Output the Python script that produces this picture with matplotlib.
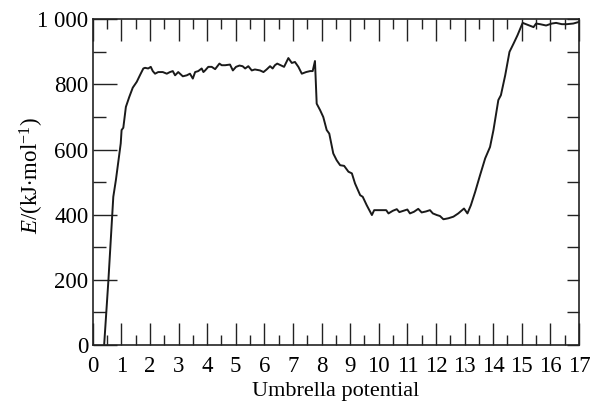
import numpy as np
import matplotlib
matplotlib.use("Agg")
import matplotlib.pyplot as plt
from matplotlib.ticker import MultipleLocator, FixedLocator

# umbrella potential window index vs energy
window = [0.40, 0.55, 0.72, 0.81, 0.98, 1.01, 1.07, 1.16, 1.28, 1.40, 1.54, 1.65, 1.77, 1.83, 1.94,
          2.03, 2.10, 2.18, 2.29, 2.45, 2.59, 2.70, 2.80, 2.88, 2.99, 3.15, 3.29, 3.40, 3.50, 3.58,
          3.69, 3.81, 3.87, 3.93, 4.04, 4.16, 4.28, 4.43, 4.51, 4.63, 4.80, 4.90, 5.01, 5.13, 5.24,
          5.33, 5.44, 5.56, 5.67, 5.85, 5.97, 6.08, 6.20, 6.29, 6.37, 6.45, 6.57, 6.69, 6.84, 6.96,
          7.07, 7.19, 7.31, 7.46, 7.60, 7.69, 7.77, 7.83, 7.95, 8.06, 8.18, 8.27, 8.41, 8.53, 8.65,
          8.79, 8.94, 9.06, 9.17, 9.35, 9.44, 9.58, 9.70, 9.76, 9.84, 9.99, 10.26, 10.34, 10.49,
          10.63, 10.72, 10.86, 11.00, 11.09, 11.23, 11.38, 11.50, 11.65, 11.79, 11.89, 12.03, 12.14,
          12.26, 12.43, 12.61, 12.78, 12.98, 13.10, 13.22, 13.37, 13.54, 13.72, 13.89, 14.01, 14.18,
          14.27, 14.42, 14.57, 14.71, 14.85, 15.00, 15.03, 15.23, 15.41, 15.50, 15.64, 15.85, 16.05,
          16.20, 16.40, 16.57, 16.80, 17.00]
energy = [0, 200, 455, 506, 619, 660, 667, 731, 762, 790, 808, 828, 849, 851, 849,
          854, 841, 833, 838, 838, 833, 838, 841, 828, 838, 825, 828, 833, 818, 838,
          841, 849, 838, 843, 854, 854, 847, 864, 859, 859, 861, 843, 854, 858, 856,
          849, 856, 843, 846, 843, 838, 846, 856, 849, 859, 864, 859, 854, 881, 866,
          869, 854, 833, 838, 841, 841, 872, 741, 721, 700, 660, 649, 588, 567, 552,
          550, 532, 527, 496, 460, 455, 429, 409, 399, 414, 414, 414, 404, 412,
          417, 408, 412, 416, 404, 409, 418, 407, 410, 414, 404, 399, 396,
          386, 389, 394, 404, 419, 404, 429, 470, 521, 573, 608, 660, 752,
          767, 828, 900, 925, 951, 982, 989, 982, 976, 987, 985, 981, 987,
          989, 985, 985, 987, 992]

x_ticks = list(range(0, 18))
y_ticks = [0, 200, 400, 600, 800, 1000]
y_tick_labels = ["0", "200", "400", "600", "800", "1 000"]

plt.rcParams["font.family"] = ["Liberation Serif", "DejaVu Serif"]
plt.rcParams["mathtext.fontset"] = "custom"
plt.rcParams["mathtext.rm"] = "Liberation Serif"
plt.rcParams["mathtext.it"] = "Liberation Serif:italic"

fig = plt.figure(figsize=(5.92, 4.03), dpi=100)
ax = fig.add_axes([92.7 / 592, 1 - 345 / 403, (579 - 92.7) / 592, (345 - 19.3) / 403])

ax.plot(window, energy, color="#1a1a1a", linewidth=1.4)

ax.set_xlim(0, 17)
ax.set_ylim(0, 1000)
ax.xaxis.set_major_locator(FixedLocator(x_ticks))
ax.xaxis.set_minor_locator(MultipleLocator(0.5))
ax.yaxis.set_major_locator(FixedLocator(y_ticks))
ax.yaxis.set_minor_locator(MultipleLocator(100))
ax.set_yticklabels(y_tick_labels)

ax.tick_params(which="both", direction="in", top=True, right=False, labelsize=16.5,
               color="#222222", width=1)
ax.tick_params(axis="x", which="major", length=16, pad=8)
ax.tick_params(axis="x", which="minor", length=7)
ax.tick_params(axis="y", which="major", length=17, pad=3)
ax.tick_params(axis="y", which="minor", length=9)
for s in ax.spines.values():
    s.set_linewidth(1.2)
    s.set_color("#222222")

# right-hand side: short ticks every 100, no labels
sec = ax.secondary_yaxis("right")
sec.yaxis.set_major_locator(MultipleLocator(100))
sec.tick_params(direction="in", length=9, width=1, labelright=False, color="#222222")
sec.spines["right"].set_visible(False)

ax.set_xlabel("Umbrella potential", fontsize=16, labelpad=3.5)
ax.set_ylabel(r"$E$/(kJ$\cdot$mol$^{-1}$)", fontsize=16.5)
ax.yaxis.set_label_coords(-0.097, 0.52)

fig.savefig("out.png", dpi=100)
